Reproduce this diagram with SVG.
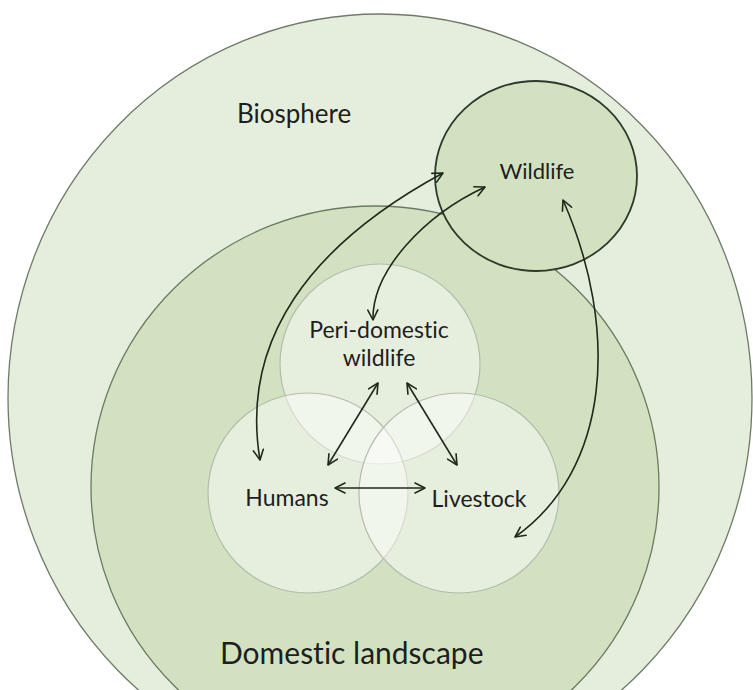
<svg xmlns="http://www.w3.org/2000/svg" width="753" height="690" viewBox="0 0 753 690">
  <style>
    .lbl { font-family: Lato, "Open Sans", "Liberation Sans", sans-serif; fill: #1e1e1e; font-variant-ligatures: none; }
    .venn { fill: #ffffff; fill-opacity: 0.45; stroke: #b4bcad; stroke-width: 1.2; }
    .link { fill: none; stroke: #1f2a1c; stroke-width: 1.6; marker-start: url(#head); marker-end: url(#head); }
  </style>
  <defs>
    <marker id="head" viewBox="0 0 12 12" refX="11" refY="6" markerWidth="12" markerHeight="12" markerUnits="userSpaceOnUse" orient="auto-start-reverse">
      <path d="M1,1 L11,6 L1,11" fill="none" stroke="#1f2a1c" stroke-width="1.6" stroke-linecap="round" stroke-linejoin="round"/>
    </marker>
  </defs>
  <rect width="753" height="690" fill="#ffffff"/>

  <g id="biosphere">
    <ellipse cx="380" cy="398" rx="372" ry="384" fill="#e5eedc" stroke="#6f7a68" stroke-width="1.3"/>
    <text class="lbl" x="237" y="123" font-size="26">Biosphere</text>
  </g>

  <g id="domestic-landscape">
    <ellipse cx="375" cy="487" rx="284" ry="281" fill="#d2e2c1" stroke="#6c7a62" stroke-width="1.3"/>
    <text class="lbl" x="220" y="664" font-size="30">Domestic landscape</text>
  </g>

  <g id="wildlife">
    <ellipse cx="536" cy="176" rx="101" ry="95" fill="#d2e2c1" stroke="#2e3929" stroke-width="1.8"/>
    <text class="lbl" x="537" y="179" font-size="22" text-anchor="middle">Wildlife</text>
  </g>

  <g id="peri-domestic-wildlife">
    <circle class="venn" cx="380" cy="364" r="100"/>
    <text class="lbl" x="379" y="338" font-size="23" text-anchor="middle">Peri-domestic</text>
    <text class="lbl" x="379" y="366" font-size="23" text-anchor="middle">wildlife</text>
  </g>

  <g id="humans">
    <circle class="venn" cx="308" cy="493" r="100"/>
    <text class="lbl" x="287" y="506" font-size="23" text-anchor="middle">Humans</text>
  </g>

  <g id="livestock">
    <circle class="venn" cx="459" cy="493" r="100"/>
    <text class="lbl" x="479" y="507" font-size="23" text-anchor="middle">Livestock</text>
  </g>

  <g id="connectors">
    <path class="link" d="M260,460 C240,340 310,245 443,173"/>
    <path class="link" d="M373,320 C372,270 425,215 485,187"/>
    <path class="link" d="M563,200 C620,330 610,470 515,537"/>
    <path class="link" d="M378,383 L328,465"/>
    <path class="link" d="M407,383 L457,465"/>
    <path class="link" d="M335,488 L425,488"/>
  </g>
</svg>
